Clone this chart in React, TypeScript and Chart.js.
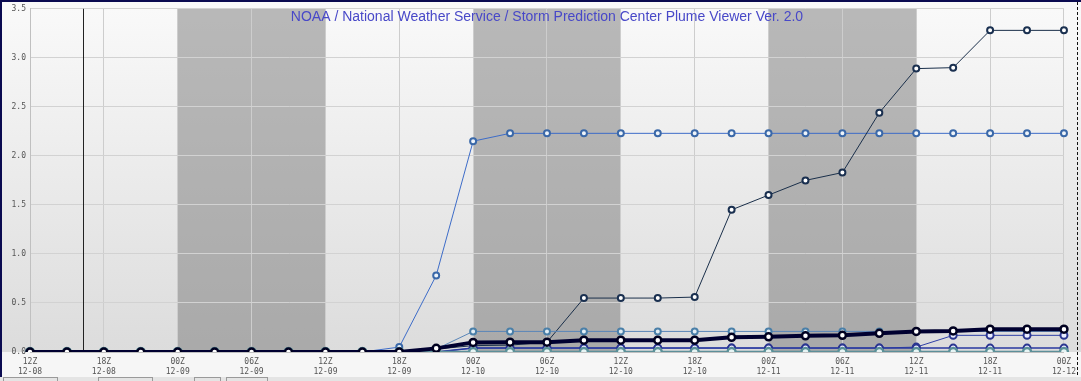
import React, { useEffect, useRef } from "react";
import { Chart, registerables } from "chart.js";

Chart.register(...registerables);

const hours = ["12Z","15Z","18Z","21Z","00Z","03Z","06Z","09Z","12Z","15Z","18Z","21Z","00Z","03Z","06Z","09Z","12Z","15Z","18Z","21Z","00Z","03Z","06Z","09Z","12Z","15Z","18Z","21Z","00Z"];
const dates = ["12-08","12-08","12-08","12-08","12-09","12-09","12-09","12-09","12-09","12-09","12-09","12-09","12-10","12-10","12-10","12-10","12-10","12-10","12-10","12-10","12-11","12-11","12-11","12-11","12-11","12-11","12-11","12-11","12-12"];

const meanValues = [0,0,0,0,0,0,0,0,0,0,0,0.037,0.098,0.10,0.10,0.12,0.12,0.12,0.12,0.15,0.155,0.165,0.17,0.19,0.21,0.215,0.233,0.233,0.233];
const memberHigh = [0,0,0,0,0,0,0,0,0,0,0.05,0.78,2.15,2.23,2.23,2.23,2.23,2.23,2.23,2.23,2.23,2.23,2.23,2.23,2.23,2.23,2.23,2.23,2.23];
const memberRise = [0,0,0,0,0,0,0,0,0,0,0,0.03,0.065,0.07,0.10,0.55,0.55,0.55,0.56,1.45,1.60,1.75,1.83,2.44,2.89,2.90,3.28,3.28,3.28];
const memberSteel = [0,0,0,0,0,0,0,0,0,0,0,0.03,0.21,0.21,0.21,0.21,0.21,0.21,0.21,0.21,0.21,0.21,0.21,0.21,0.21,0.21,0.21,0.21,0.21];
const memberLate = [0,0,0,0,0,0,0,0,0,0,0,0,0.04,0.04,0.04,0.04,0.04,0.04,0.04,0.04,0.04,0.04,0.04,0.04,0.05,0.17,0.17,0.17,0.17];
const memberLow = [0,0,0,0,0,0,0,0,0,0,0,0,0.04,0.04,0.04,0.04,0.04,0.04,0.04,0.04,0.04,0.04,0.04,0.04,0.04,0.04,0.04,0.04,0.04];
const memberZero = [0,0,0,0,0,0,0,0,0,0,0,0,0,0,0,0,0,0,0,0,0,0,0,0,0,0,0,0,0];

const nightBands = [[4, 8], [12, 16], [20, 24]];
const nowIndex = 1.43;
const titleText = "NOAA / National Weather Service / Storm Prediction Center Plume Viewer Ver. 2.0";

const decoPlugin = {
  id: "deco",
  beforeDraw(chart: any) {
    const { ctx, chartArea, width, height } = chart;
    const x = chart.scales.x;
    ctx.save();
    const g = ctx.createLinearGradient(0, chartArea.top, 0, chartArea.bottom);
    g.addColorStop(0, "#f9f9f9");
    g.addColorStop(1, "#dcdcdc");
    ctx.fillStyle = g;
    ctx.fillRect(0, 0, width, chartArea.bottom);
    ctx.fillStyle = "#f6f6f6";
    ctx.fillRect(0, chartArea.bottom, width, height - chartArea.bottom);
    ctx.fillStyle = "rgba(120,120,120,0.5)";
    for (const [a, b] of nightBands) {
      const x1 = x.getPixelForValue(a);
      const x2 = x.getPixelForValue(b);
      ctx.fillRect(x1, chartArea.top, x2 - x1, chartArea.bottom - chartArea.top);
    }
    ctx.restore();
  },
  beforeDatasetsDraw(chart: any) {
    const { ctx, chartArea } = chart;
    const px = Math.round(chart.scales.x.getPixelForValue(nowIndex)) + 0.5;
    ctx.save();
    ctx.strokeStyle = "#222";
    ctx.lineWidth = 1;
    ctx.beginPath();
    ctx.moveTo(px, chartArea.top);
    ctx.lineTo(px, chartArea.bottom);
    ctx.stroke();
    ctx.restore();
  },
  afterDraw(chart: any) {
    const { ctx, chartArea, width, height } = chart;
    ctx.save();
    ctx.font = "14px 'Liberation Sans', Arial, sans-serif";
    ctx.fillStyle = "#4848c8";
    ctx.textAlign = "center";
    ctx.textBaseline = "middle";
    ctx.fillText(titleText, (chartArea.left + chartArea.right) / 2, 17);
    // frame
    ctx.fillStyle = "#0a0a50";
    ctx.fillRect(0, 0, width, 2);
    ctx.fillRect(0, 0, 2, height - 4);
    ctx.strokeStyle = "#111";
    ctx.lineWidth = 1;
    ctx.setLineDash([3, 2]);
    ctx.beginPath();
    ctx.moveTo(width - 3.5, 2);
    ctx.lineTo(width - 3.5, height - 4);
    ctx.stroke();
    ctx.setLineDash([]);
    // bottom strip
    ctx.fillStyle = "#e4e4e4";
    ctx.fillRect(0, height - 4, width, 4);
    ctx.strokeStyle = "#9a9a9a";
    for (const [a, b] of [[3, 57], [98, 152], [194, 220], [226, 267]]) {
      ctx.strokeRect(a + 0.5, height - 3.5, b - a, 6);
    }
    ctx.restore();
  },
};

const pt = (border: string, fill: string, r: number, bw: number) => ({
  pointBorderColor: border,
  pointBackgroundColor: fill,
  pointRadius: r,
  pointBorderWidth: bw,
  pointHoverRadius: r,
});

export default function App() {
  const ref = useRef<HTMLCanvasElement | null>(null);
  useEffect(() => {
    document.body.style.margin = "0";
    const labels = hours.map((h, i) => h + " " + dates[i]);
    const chart = new Chart(ref.current as HTMLCanvasElement, {
      type: "line",
      data: {
        labels,
        datasets: [
          { label: "Mean", data: meanValues, borderColor: "#000030", borderWidth: 4, ...pt("#000020", "#ffffff", 3.5, 2.5) },
          { label: "Zero", data: memberZero, borderColor: "#5d8f99", borderWidth: 2.5, ...pt("#5a9098", "#e6f4f4", 4, 2.5) },
          { label: "Low", data: memberLow, borderColor: "#2838a0", borderWidth: 1.5, ...pt("#2a3590", "#e8ecff", 3.5, 2) },
          { label: "Late", data: memberLate, borderColor: "#3040a8", borderWidth: 1, ...pt("#2a3590", "#e8ecff", 3.5, 2) },
          { label: "Steel", data: memberSteel, borderColor: "#5a86b8", borderWidth: 1, ...pt("#4a7fa8", "#e2eef5", 3, 2) },
          { label: "Rise", data: memberRise, borderColor: "#1a2f4a", borderWidth: 1, ...pt("#1a3050", "#ffffff", 3, 2) },
          { label: "High", data: memberHigh, borderColor: "#3d6cc8", borderWidth: 1, ...pt("#3a68a8", "#eef4fa", 3, 2) },
        ],
      },
      options: {
        animation: false,
        responsive: true,
        maintainAspectRatio: false,
        layout: { padding: { left: 0, right: 17, top: 7, bottom: 0 } },
        plugins: { legend: { display: false }, tooltip: { enabled: false }, title: { display: false } },
        elements: { line: { tension: 0 } },
        scales: {
          x: {
            type: "category",
            offset: false,
            afterFit: (s: any) => { s.height = 29; },
            grid: {
              drawTicks: false,
              color: (c: any) => (c.index % 2 === 0 ? "#cdcdcd" : "rgba(0,0,0,0)"),
            },
            border: { color: "#c0c0c0" },
            ticks: {
              autoSkip: false,
              maxRotation: 0,
              padding: 5,
              color: "#555",
              font: { family: "'DejaVu Sans Mono', monospace", size: 8, lineHeight: 1.25 },
              callback: (_v: any, i: number) => (i % 2 === 0 ? [hours[i], dates[i]] : ""),
            },
          },
          y: {
            min: 0,
            max: 3.5,
            afterFit: (s: any) => { s.width = 30; },
            grid: { drawTicks: false, color: "#d2d2d2" },
            border: { color: "#c0c0c0" },
            ticks: {
              stepSize: 0.5,
              padding: 4,
              color: "#555",
              font: { family: "'DejaVu Sans Mono', monospace", size: 8 },
              callback: (v: any) => Number(v).toFixed(1),
            },
          },
        },
      },
      plugins: [decoPlugin],
    });
    return () => chart.destroy();
  }, []);
  return (
    <div style={{ width: 1081, height: 381, position: "relative" }}>
      <canvas ref={ref} />
    </div>
  );
}
